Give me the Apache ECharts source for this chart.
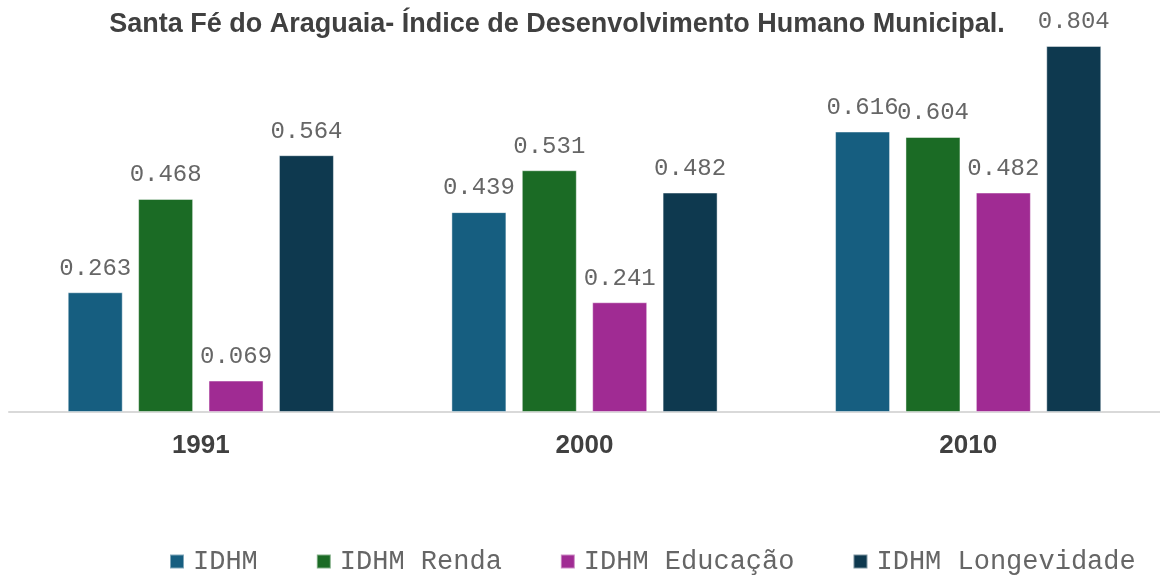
<!DOCTYPE html>
<html>
<head>
<meta charset="utf-8">
<script src="https://cdn.jsdelivr.net/npm/echarts@6/dist/echarts.min.js"></script>
<style>
	html, body { margin: 0; padding: 0; background: #fff; }
	#chart { width: 1160px; height: 575px; }
</style>
</head>
<body>
<div id="chart"></div>
<script>
	// anos e valores do IDHM
	var years = ['1991', '2000', '2010'];
	var idhm = [0.263, 0.439, 0.616];
	var idhmRenda = [0.468, 0.531, 0.604];
	var idhmEducacao = [0.069, 0.241, 0.482];
	var idhmLongevidade = [0.564, 0.482, 0.804];
	var seriesNames = ['IDHM', 'IDHM Renda', 'IDHM Educação', 'IDHM Longevidade'];
	var colors = ['#165E80', '#1B6B25', '#A02B93', '#0E394F'];

	var mono = '"Liberation Mono", "Courier New", monospace';
	var sans = '"Liberation Sans", Arial, sans-serif';

	function makeBar(name, data, color) {
		return {
			name: name,
			type: 'bar',
			data: data,
			barWidth: 55,
			barGap: '28%',
			itemStyle: {
				color: color,
				borderColor: 'rgba(255,255,255,0.45)',
				borderWidth: 1
			},
			label: {
				show: true,
				position: 'top',
				distance: 12,
				color: '#666666',
				fontFamily: mono,
				fontSize: 24,
				formatter: function (p) { return p.value.toFixed(3); }
			}
		};
	}

	var chart = echarts.init(document.getElementById('chart'));
	chart.setOption({
		animation: false,
		title: {
			text: 'Santa Fé do Araguaia- Índice de Desenvolvimento Humano Municipal.',
			left: 552,
			textAlign: 'center',
			top: 6,
			textStyle: {
				color: '#404040',
				fontFamily: sans,
				fontWeight: 'bold',
				fontSize: 27
			}
		},
		legend: {
			data: seriesNames,
			left: 164,
			top: 543,
			icon: 'rect',
			itemWidth: 14,
			itemHeight: 14,
			itemGap: 58,
			textStyle: {
				color: '#666666',
				fontFamily: mono,
				fontSize: 27,
				padding: [0, 0, 0, 4]
			}
		},
		grid: {
			left: 9,
			right: 0,
			top: 25,
			bottom: 163,
			containLabel: false
		},
		xAxis: {
			type: 'category',
			data: years,
			axisTick: { show: false },
			axisLine: { lineStyle: { color: '#d9d9d9', width: 2 } },
			axisLabel: {
				margin: 21,
				color: '#404040',
				fontFamily: sans,
				fontWeight: 'bold',
				fontSize: 26
			}
		},
		yAxis: {
			type: 'value',
			min: 0,
			max: 0.85,
			show: false,
			splitLine: { show: false }
		},
		series: [
			makeBar(seriesNames[0], idhm, colors[0]),
			makeBar(seriesNames[1], idhmRenda, colors[1]),
			makeBar(seriesNames[2], idhmEducacao, colors[2]),
			makeBar(seriesNames[3], idhmLongevidade, colors[3])
		]
	});
</script>
</body>
</html>
